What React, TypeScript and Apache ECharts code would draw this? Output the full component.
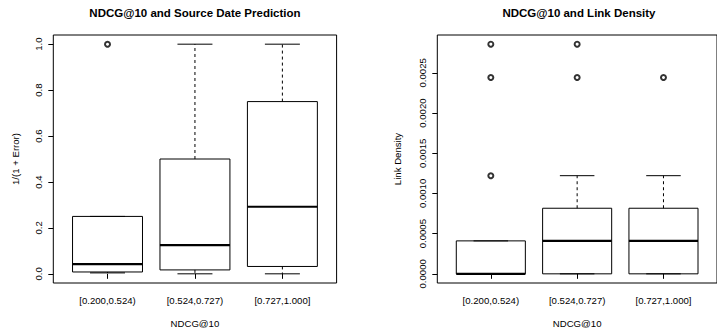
import React, { useEffect, useRef } from "react";
import * as echarts from "echarts";

const categories = ["[0.200,0.524)", "[0.524,0.727)", "[0.727,1.000]"];
// [lowerWhisker, Q1, median, Q3, upperWhisker]
const sourceDateStats = [
  [0.004, 0.008, 0.042, 0.25, 0.25],
  [0.0, 0.017, 0.125, 0.5, 1.0],
  [0.0, 0.032, 0.292, 0.75, 1.0],
];
const sourceDateOutliers = [[1, 1.0]];
const linkDensityStats = [
  [0, 0, 0, 0.00041, 0.00041],
  [0, 0, 0.00041, 0.000816, 0.001221],
  [0, 0, 0.00041, 0.000816, 0.001221],
];
const linkDensityOutliers = [
  [1, 0.001221],
  [1, 0.002443],
  [1, 0.002857],
  [2, 0.002443],
  [2, 0.002857],
  [3, 0.002443],
];
const leftTicks = [0, 0.2, 0.4, 0.6, 0.8, 1.0];
const rightTicks = [0, 0.0005, 0.001, 0.0015, 0.002, 0.0025];
const titles = ["NDCG@10 and Source Date Prediction", "NDCG@10 and Link Density"];
const yNames = ["1/(1 + Error)", "Link Density"];
const xName = "NDCG@10";

const FONT = "'Liberation Sans', Arial, Helvetica, sans-serif";

function renderBox(params: any, api: any) {
  const x = api.value(0);
  const lo = api.value(1);
  const q1 = api.value(2);
  const med = api.value(3);
  const q3 = api.value(4);
  const hi = api.value(5);
  const c = (xx: number, yy: number) => api.coord([xx, yy]);
  const black = { stroke: "#000", lineWidth: 1, fill: null };
  const children: any[] = [];
  const pHi = c(x, hi), pQ3 = c(x, q3), pQ1 = c(x, q1), pLo = c(x, lo);
  if (hi > q3) {
    children.push({ type: "line", shape: { x1: pQ3[0], y1: pQ3[1], x2: pHi[0], y2: pHi[1] }, style: { stroke: "#000", lineWidth: 1, lineDash: [3, 3] } });
  }
  if (lo < q1) {
    children.push({ type: "line", shape: { x1: pQ1[0], y1: pQ1[1], x2: pLo[0], y2: pLo[1] }, style: { stroke: "#000", lineWidth: 1, lineDash: [3, 3] } });
  }
  const sL = c(x - 0.2, hi), sR = c(x + 0.2, hi);
  children.push({ type: "line", shape: { x1: sL[0], y1: sL[1], x2: sR[0], y2: sR[1] }, style: black });
  const lL = c(x - 0.2, lo), lR = c(x + 0.2, lo);
  children.push({ type: "line", shape: { x1: lL[0], y1: lL[1], x2: lR[0], y2: lR[1] }, style: black });
  const bTL = c(x - 0.4, q3), bBR = c(x + 0.4, q1);
  children.push({ type: "rect", shape: { x: bTL[0], y: bTL[1], width: bBR[0] - bTL[0], height: bBR[1] - bTL[1] }, style: { stroke: "#000", lineWidth: 1, fill: "none" } });
  const mL = c(x - 0.4, med), mR = c(x + 0.4, med);
  children.push({ type: "line", shape: { x1: mL[0], y1: mL[1], x2: mR[0], y2: mR[1] }, style: { stroke: "#000", lineWidth: 2.2 } });
  return { type: "group", children };
}

export default function App() {
  const ref = useRef<HTMLDivElement>(null);
  useEffect(() => {
    if (!ref.current) return;
    const chart = echarts.init(ref.current, null, { renderer: "svg" });
    const gridTop = 35;
    const gridH = 248.3;
    const gridW = 283.3;
    const lefts = [53.3, 437.3];
    const yMins = [-0.04, -0.000114];
    const yMaxs = [1.04, 0.002971];
    const yTicks = [leftTicks, rightTicks];
    const yFmt = [(v: number) => v.toFixed(1), (v: number) => v.toFixed(4)];
    const statsList = [sourceDateStats, linkDensityStats];
    const outList = [sourceDateOutliers, linkDensityOutliers];
    const textStyle = { color: "#000000", fontFamily: FONT, fontSize: 9.6 };

    const option: any = {
      animation: false,
      grid: lefts.map((l) => ({
        left: l,
        top: gridTop,
        width: gridW,
        height: gridH,
        show: true,
        borderColor: "#000",
        borderWidth: 1,
        backgroundColor: "transparent",
        containLabel: false,
      })),
      xAxis: [0, 1].map((i) => ({
        type: "value",
        gridIndex: i,
        min: 0.38,
        max: 3.62,
        axisLine: { show: false, lineStyle: { color: "#000" } },
        splitLine: { show: false },
        axisTick: { show: true, length: 5, customValues: [1, 2, 3], lineStyle: { color: "#000" } },
        axisLabel: {
          ...textStyle,
          customValues: [1, 2, 3],
          margin: 12,
          formatter: (v: number) => categories[Math.round(v) - 1] ?? "",
        },
        name: xName,
        nameLocation: "middle",
        nameGap: 35,
        nameTextStyle: { ...textStyle },
      })),
      yAxis: [0, 1].map((i) => ({
        type: "value",
        gridIndex: i,
        min: yMins[i],
        max: yMaxs[i],
        axisLine: { show: false, lineStyle: { color: "#000" } },
        splitLine: { show: false },
        axisTick: { show: true, length: 5, customValues: yTicks[i], lineStyle: { color: "#000" } },
        axisLabel: {
          ...textStyle,
          customValues: yTicks[i],
          rotate: 90,
          margin: 10,
          formatter: yFmt[i],
        },
        name: yNames[i],
        nameLocation: "middle",
        nameGap: i === 0 ? 33 : 35,
        nameRotate: 90,
        nameTextStyle: { ...textStyle },
      })),
      graphic: titles.map((t, i) => ({
        type: "text",
        x: lefts[i] + gridW / 2,
        y: 12.5,
        style: {
          text: t,
          fill: "#000",
          font: `bold 11.5px ${FONT}`,
          textAlign: "center",
          textVerticalAlign: "middle",
        },
      })),
      series: [
        ...[0, 1].map((i) => ({
          type: "custom",
          xAxisIndex: i,
          yAxisIndex: i,
          renderItem: renderBox,
          encode: { x: 0, y: [1, 2, 3, 4, 5] },
          data: statsList[i].map((s, k) => [k + 1, ...s]),
          clip: false,
        })),
        ...[0, 1].map((i) => ({
          type: "scatter",
          xAxisIndex: i,
          yAxisIndex: i,
          symbol: "emptyCircle",
          symbolSize: 5,
          itemStyle: { color: "#000", borderColor: "#000", borderWidth: 1.3 },
          data: outList[i],
        })),
      ],
    };
    chart.setOption(option);
    return () => chart.dispose();
  }, []);
  return (
    <div
      ref={ref}
      style={{ position: "fixed", left: 0, top: 0, width: 717, height: 333, background: "#fff" }}
    />
  );
}
